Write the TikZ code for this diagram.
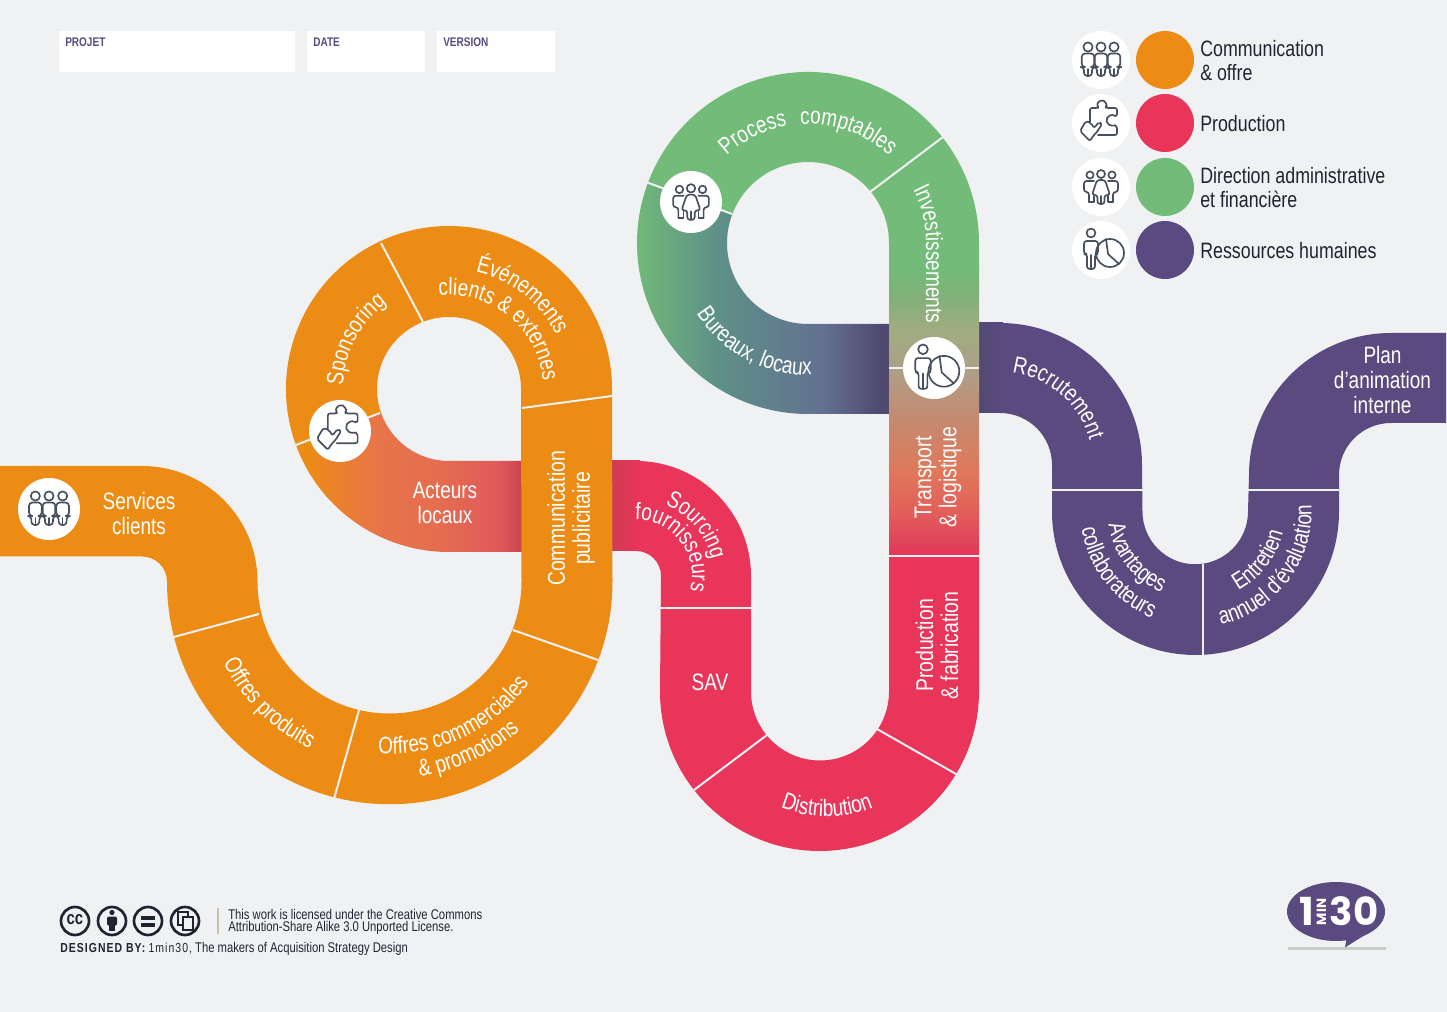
\documentclass[tikz,border=0pt]{standalone}
\usepackage{fontspec}
\setmainfont[FakeStretch=0.8]{Liberation Sans}
\newfontfamily\spacedf[FakeStretch=0.8,LetterSpace=8]{Liberation Sans}
\newfontfamily\logof{Poppins}
\usetikzlibrary{decorations.text}
\definecolor{bgc}{HTML}{F0F1F3}
\definecolor{orng}{HTML}{EC8C14}
\definecolor{redc}{HTML}{E9355A}
\definecolor{grn}{HTML}{72BB78}
\definecolor{purp}{HTML}{5B4A80}
\definecolor{iconc}{HTML}{47505E}
\definecolor{darkt}{HTML}{1F2530}
\definecolor{ac1}{HTML}{E8744A}
\definecolor{ac2}{HTML}{E56D50}
\definecolor{ac3}{HTML}{E05A5A}
\definecolor{ac4}{HTML}{C94050}
\definecolor{srcst}{HTML}{C93D50}
\definecolor{bu1}{HTML}{5E9088}
\definecolor{bu2}{HTML}{637090}
\definecolor{buend}{HTML}{504A70}
\definecolor{tr1}{HTML}{85B07A}
\definecolor{tr2}{HTML}{A0AC80}
\definecolor{tr3}{HTML}{ACA088}
\definecolor{tr4}{HTML}{C48A70}
\definecolor{tr5}{HTML}{E0785A}
\definecolor{tr6}{HTML}{E2605A}
\definecolor{tr7}{HTML}{E0405A}
\definecolor{linec}{HTML}{C8C0A8}
\definecolor{shadc}{HTML}{C8CDCB}
\pgfdeclarehorizontalshading{actsh}{100bp}{color(0bp)=(orng); color(27bp)=(orng); color(43bp)=(ac1); color(55bp)=(ac2); color(68bp)=(ac3); color(74bp)=(ac4); color(100bp)=(ac4)}
\pgfdeclarehorizontalshading{bursh}{100bp}{color(0bp)=(grn); color(26bp)=(grn); color(42bp)=(bu1); color(62bp)=(bu2); color(72bp)=(buend); color(100bp)=(buend)}
\pgfdeclareverticalshading{trsh}{100bp}{color(0bp)=(redc); color(25bp)=(redc); color(27bp)=(tr7); color(33bp)=(tr6); color(40bp)=(tr5); color(48.8bp)=(tr4); color(57.9bp)=(tr3); color(64.5bp)=(tr2); color(69.8bp)=(tr1); color(75bp)=(grn); color(100bp)=(grn)}
\newcommand{\bandf}{\fontsize{17.8}{18.75}\selectfont}
\newcommand{\arctxt}[6]{%
  \path[decorate,decoration={text along path,text align=center,text={|\bandf\color{white}|#6}}]
    ({#1+#3*cos(#4)},{#2+#3*sin(#4)}) arc[start angle=#4,end angle=#5,radius=#3];}
\tikzset{
  band/.style={text=white,font=\bandf,align=center,inner sep=0pt},
  bandr/.style={text=white,font=\fontsize{18.2}{18.75}\selectfont,align=center,inner sep=0pt,rotate=90},
  legendt/.style={text=darkt,font=\fontsize{16.7}{18}\selectfont,align=left,anchor=west,inner sep=0pt},
  sep/.style={draw=bgc,line width=1.5pt},
  whitec/.style={fill=white,draw=none},
  ic/.style={draw=iconc,line width=1.25pt,line join=round,line cap=round},
  boxw/.style={fill=white,draw=none},
  boxl/.style={text=purp,font=\fontsize{9.4}{11}\selectfont\bfseries,anchor=west,inner sep=0pt},
  foot/.style={text=darkt,font=\fontsize{10.55}{11}\selectfont,anchor=west,inner sep=0pt},
  ccr/.style={draw=darkt,line width=2pt,fill=bgc},
  man/.pic={
    \draw[ic] (0,-13) circle[radius=4.6];
    \draw[ic,rounded corners=2.5pt] (-4,16)--(-4,7)--(-6.3,7)--(-6.3,-6.5)--(6.3,-6.5)--(6.3,7)--(4,7)--(4,16)--cycle;
    \draw[ic] (0,16)--(0,9);
  },
  groupa/.pic={
    \pic at (-13,0) {man};
    \pic at (13,0) {man};
    \pic at (0,0) {man};
  },
  puzzle/.pic={
    \draw[ic,rounded corners=1.5pt] (-11,-1)--(-11,-15)--(-3,-15)--(-3,-17) arc[start angle=160,end angle=380,radius=4.2] --(5,-15)--(16,-15)--(16,-7)--(13,-7) arc[start angle=-60,end angle=-300,radius=5] --(16,3)--(16,12)--(-3,12);
    \draw[ic,rounded corners=1.5pt] (-21,8)--(-15,-2)--(-10,0)--(-7,5)--(-2,-1)--(1,1)--(-4,9)--(-8,13)--(-11,18)--cycle;
  },
  groupb/.pic={
    \draw[ic] (-11,-12) circle[radius=3.6];
    \draw[ic] (11,-12) circle[radius=3.6];
    \draw[ic] (0,-13) circle[radius=4];
    \draw[ic,rounded corners=2pt] (-12,15)--(-12,5)--(-17,5)--(-17,-6)--(-7,-6);
    \draw[ic,rounded corners=2pt] (12,15)--(12,5)--(17,5)--(17,-6)--(7,-6);
    \draw[ic] (-12,15)--(-7,15)--(-7,9);
    \draw[ic] (12,15)--(7,15)--(7,9);
    \draw[ic,rounded corners=2pt] (-3.5,17)--(-3.5,8)--(-9,8)--(-4,-7)--(4,-7)--(9,8)--(3.5,8)--(3.5,17)--cycle;
    \draw[ic] (0,17)--(0,9);
  },
  groupc/.pic={
    \draw[ic] (-10,-17) circle[radius=4.4];
    \draw[ic,rounded corners=2pt] (-14,19)--(-14,4)--(-17,4)--(-17,-9)--(-3,-9)--(-3,4)--(-6,4)--(-6,19)--cycle;
    \draw[ic] (-10,19)--(-10,5);
    \draw[ic] (9,3) circle[radius=14];
    \draw[ic] (5,-11)--(7,4)--(18,14);
  }
}
\begin{document}
\begin{tikzpicture}[x=0.75pt,y=-0.75pt]
\useasboundingbox (0,0) rectangle (1447,1012);
\fill[bgc] (0,0) rectangle (1447,1012);
% top boxes
\fill[boxw] (59,31) rectangle (295,72);
\fill[boxw] (307,31) rectangle (425,72);
\fill[boxw] (437,31) rectangle (555,72);
\node[boxl] (lprojet) at (65,42) {PROJET};
\node[boxl] (ldate) at (313,42) {DATE};
\node[boxl] (lversion) at (443,42) {VERSION};
% Acteurs locaux (gradient, under the vertical band)
\shade[shading=actsh]
  ({449+163*cos(160.8)},{389+163*sin(160.8)}) arc[start angle=160.8,end angle=90,radius=163]
  -- (530,552) -- (530,461) -- (449,461) arc[start angle=90,end angle=160.8,radius=72] -- cycle;
% Sourcing gradient start
\shade[left color=srcst,right color=redc] (605,461) rectangle (640,551);
% orange main ribbon
\fill[orng] (0,466) -- (142,466) arc[start angle=-90,end angle=0,radius=115.5]
  arc[start angle=180,end angle=0,radius=132]
  -- (521,389) arc[start angle=360,end angle=160.8,radius=72]
  -- ({449+163*cos(160.8)},{389+163*sin(160.8)}) arc[start angle=160.8,end angle=360,radius=163]
  -- (612.5,581.5) arc[start angle=0,end angle=180,radius=222.75]
  arc[start angle=0,end angle=-90,radius=25]
  -- (0,556.5) -- cycle;
% red ribbon
\fill[redc] (636,461) arc[start angle=-90,end angle=0,radius=115]
  -- (751,691.5) arc[start angle=180,end angle=0,radius=69]
  -- (889,556) -- (979,556) -- (979,691.5) arc[start angle=0,end angle=180,radius=159.5]
  -- (661,576) arc[start angle=0,end angle=-90,radius=25] -- (636,551) -- cycle;
% Bureaux (green to purple)
\shade[shading=bursh]
  ({808+171*cos(200.9)},{243+171*sin(200.9)}) arc[start angle=200.9,end angle=90,radius=171]
  -- (895,414) -- (895,324) -- (808,324) arc[start angle=90,end angle=200.9,radius=81] -- cycle;
% purple ribbon
\fill[purp] (975,323) -- (1000,323) arc[start angle=-90,end angle=0,radius=142]
  -- (1142.5,511.5) arc[start angle=180,end angle=0,radius=52.75]
  -- (1249,475) arc[start angle=180,end angle=270,radius=142]
  -- (1446,333) -- (1446,423) -- (1391,423) arc[start angle=270,end angle=180,radius=52]
  -- (1339,511.5) arc[start angle=0,end angle=180,radius=143.5]
  -- (1052,465) arc[start angle=0,end angle=-90,radius=52] -- (975,413) -- cycle;
\shade[left color=buend,right color=purp] (975,323) rectangle (1003,413);
% green loop
\fill[grn] ({808+171*cos(200.9)},{243+171*sin(200.9)}) arc[start angle=200.9,end angle=360,radius=171]
  -- (979,271) -- (889,271) -- (889,243) arc[start angle=360,end angle=200.9,radius=81] -- cycle;
% vertical gradient
\shade[shading=trsh] (889,270) rectangle (979,556.5);
% dividers
\draw[sep] (170,638) -- (259,614);
\draw[sep] (334,799) -- (359,710);
\draw[sep] (513,630) -- (598,660);
\draw[sep] (522,408) -- (612,396);
\draw[sep] (381,243) -- (423,322);
\draw[sep] (296,445) -- (380,413);
\draw[sep] (660,608) -- (751,608);
\draw[sep] (694,790) -- (767,735);
\draw[sep] (877,729) -- (956,774);
\draw[sep] (889,556) -- (979,556);
\draw[sep] (889,368) -- (979,368);
\draw[sep] (870,192) -- (943,137);
\draw[sep] (646,182) -- (732,214);
\draw[sep] (1052,490) -- (1143,490);
\draw[sep] (1203,564) -- (1203,655);
\draw[sep] (1248,490) -- (1339,490);
% straight labels
\node[band] (services) at (139,514) {Services\\clients};
\node[band] (acteurs) at (445,502.5) {Acteurs\\locaux};
\node[bandr] (comm) at (571,518.5) {Communication\\publicitaire};
\node[band] (sav) at (710,682.5) {SAV};
\node[bandr] (prod) at (937,645.5) {Production\\\& fabrication};
\node[bandr] (transp) at (938,477) {Transport\\\& logistique};
\node[band] (plan) at (1382.5,380.5) {Plan\\d’animation\\interne};
% curved labels
\arctxt{390}{582}{185}{170}{100}{Offres produits}
\arctxt{390}{582}{172}{100}{30}{Offres commerciales}
\arctxt{390}{582}{197}{100}{30}{{\&} promotions}
\arctxt{449}{389}{106}{170}{246}{Sponsoring}
\arctxt{449}{389}{120}{264}{352}{Événements}
\arctxt{449}{389}{94}{255.5}{363.5}{clients {\&} externes}
\arctxt{808}{243}{119}{215}{325}{Process {\kern6pt}comptables}
\path[decorate,decoration={text along path,text align=center,text={|\bandf\color{white}|Investissements}}]
  ({808+118*cos(329)},{243+118*sin(329)}) arc[start angle=329,end angle=360,radius=118] -- (926,331);
\arctxt{808}{243}{132}{160}{76}{Bureaux, locaux}
\arctxt{636}{576}{77}{269}{371}{Sourcing}
\arctxt{636}{576}{56}{245}{399}{fournisseurs}
\arctxt{827}{691.5}{125}{130}{50}{Distribution}
\arctxt{1000}{465}{93}{261}{361}{Recrutement}
\arctxt{1195.5}{511.5}{88}{190}{94}{Avantages}
\arctxt{1195.5}{511.5}{115}{190}{94}{collaborateurs}
\arctxt{1195.5}{511.5}{90}{85}{-10}{Entretien}
\arctxt{1195.5}{511.5}{116}{85}{-11}{annuel d’évaluation}
% icon discs on the ribbon
\fill[whitec] (49,509) circle[radius=31];
\fill[whitec] (340,431) circle[radius=31];
\fill[whitec] (691,202) circle[radius=31];
\fill[whitec] (934,368) circle[radius=31];
\pic[scale=1.05] at (49,509) {groupa};
\pic[scale=1.1] at (340,430) {puzzle};
\pic[scale=1.05] at (691,202) {groupb};
\pic[scale=1.1] at (934,368) {groupc};
% legend
\foreach \yy/\cc in {60/orng,123/redc,187/grn,250/purp}{
  \fill[whitec] (1101,\yy) circle[radius=29];
  \fill[\cc] (1165,\yy) circle[radius=29];
}
\pic at (1101,60) {groupa};
\pic at (1101,123) {puzzle};
\pic at (1101,187) {groupb};
\pic at (1101,250) {groupc};
\node[legendt] (l1) at (1200,61) {Communication\\\& offre};
\node[legendt] (l2) at (1200,124) {Production};
\node[legendt] (l3) at (1200,188) {Direction administrative\\et financière};
\node[legendt] (l4) at (1200,251) {Ressources humaines};
% footer
\draw[ccr] (75,921) circle[radius=14];
\draw[ccr] (112,921) circle[radius=14];
\draw[ccr] (148,921) circle[radius=14];
\draw[ccr] (185,921) circle[radius=14];
\node[inner sep=0pt,text=darkt,font=\fontsize{14}{14}\selectfont\bfseries] (cc) at (75,920) {cc};
\fill[darkt] (112,912.5) circle[radius=2.6];
\fill[darkt,rounded corners=1pt] (107,916.5) rectangle (117,925.5);
\fill[darkt] (109,925) rectangle (115,931);
\fill[darkt] (141,915.5) rectangle (155,919.5);
\fill[darkt] (141,922.5) rectangle (155,926.5);
\draw[darkt,line width=1.1pt] (178,912) rectangle (188,925);
\draw[darkt,line width=1.1pt,fill=bgc] (183,917) rectangle (193,930);
\draw[linec,line width=1pt] (218,908) -- (218,934);
\node[foot] (lic1) at (228,914.5) {This work is licensed under the Creative Commons};
\node[foot] (lic2) at (228,928) {Attribution-Share Alike 3.0 Unported License.};
\node[foot] (design) at (60,949) {{\spacedf\bfseries\fontsize{9.8}{11}\selectfont DESIGNED BY:} {\spacedf\fontsize{9.8}{11}\selectfont 1min30,} The makers of Acquisition Strategy Design};
% logo
\draw[shadc,line width=2.2pt] (1288,948.5) -- (1386,948.5);
\fill[purp] (1336,911.5) ellipse[x radius=49,y radius=29.5];
\fill[purp] (1347,936) -- (1345,947.5) -- (1368,933) -- cycle;
\node[inner sep=0pt,text=white,font=\logof\bfseries\fontsize{29}{29}\selectfont] (lg1) at (1307,911) {1};
\node[inner sep=0pt,text=white,font=\logof\bfseries\fontsize{29}{29}\selectfont] (lg30) at (1354,911) {30};
\node[inner sep=0pt,text=white,rotate=90,font=\logof\bfseries\fontsize{10}{10}\selectfont] (lgmin) at (1321.5,912) {MIN};
\end{tikzpicture}
\end{document}
